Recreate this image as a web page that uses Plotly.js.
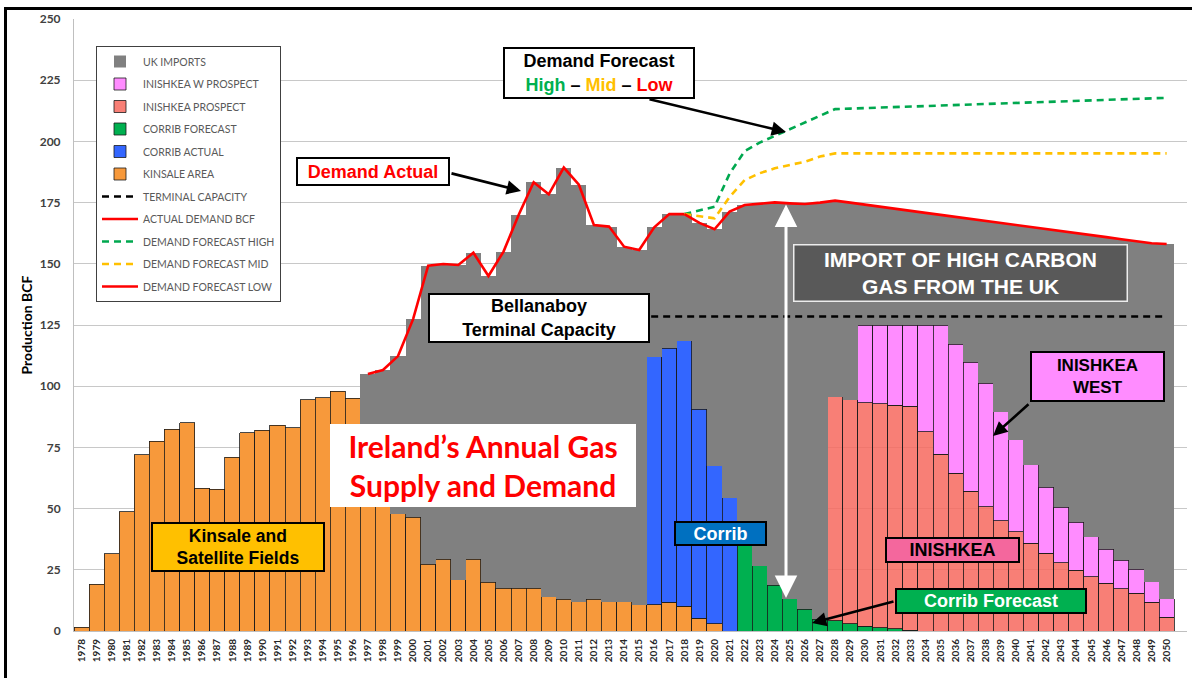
<!DOCTYPE html>
<html><head><meta charset="utf-8">
<script src="https://cdn.plot.ly/plotly-3.0.1.min.js"></script>
<style>
html,body{margin:0;padding:0;overflow:hidden;background:#fff;width:1192px;height:678px}
#chart{width:1192px;height:678px}
#frame{position:absolute;left:4px;top:7px;width:1220px;height:700px;border:3px solid #000;box-sizing:border-box;pointer-events:none}
</style>
</head><body><div id="chart"></div><div id="frame"></div>
<script>
// ---------- DATA ----------
const years = ['1978','1979','1980','1981','1982','1983','1984','1985','1986','1987',
 '1988','1989','1990','1991','1992','1993','1994','1995','1996','1997',
 '1998','1999','2000','2001','2002','2003','2004','2005','2006','2007',
 '2008','2009','2010','2011','2012','2013','2014','2015','2016','2017',
 '2018','2019','2020','2021','2022','2023','2024','2025','2026','2027',
 '2028','2029','2030','2031','2032','2033','2034','2035','2036','2037',
 '2038','2039','2040','2041','2042','2043','2044','2045','2046','2047',
 '2048','2049','2050'];

// Kinsale area 1978-2020
const kinsale = [1.5,19,31.5,48.7,72,77.6,82.5,85,58.4,58,
 71,81,82,84,83,94.5,95.3,98,95,84,
 65,48,46.4,27.2,29.4,21,29.4,20,17.4,17.4,
 17.4,13.9,12.9,12,12.9,12,12,10.8,10.8,11.7,
 10.1,5.2,3.0];
// Corrib actual 2016-2021
const corribActual = [101.3,103.8,108.5,85.4,64.5,54.5];
// Corrib forecast 2022-2033
const corribForecast = [36,26.7,18.7,13.1,8.9,4.8,4.2,3.0,2.0,1.4,0.9,0.4];
// Inishkea prospect 2028-2050
const inishkea = [91.5,91.4,91.3,91.5,91.3,91.5,81.4,72.3,64.5,57.1,
 50.8,45.1,40.6,35.8,31.7,27.9,24.9,22.2,19.6,17.3,15.4,11.7,5.7];
// Inishkea W prospect 2030-2050
const inishkeaW = [31.7,32.1,32.8,33.1,43.6,52.7,52.6,52.7,50.4,44.5,
 37.6,32.1,27.0,22.6,19.5,16.3,13.8,11.7,9.8,8.4,7.4];
// UK imports 1997-2050
const ukImports = [21.0,41.6,64.3,81.0,122.0,120.5,128.5,125.1,125.0,137.6,
 152.5,165.9,164.5,176.4,170.3,152.9,153.2,145.0,144.8,52.8,
 54.8,51.7,76.1,96.6,116.8,138.0,147.8,156.4,161.6,165.5,
 170.2,80.1,80.6,49.1,48.3,47.5,46.7,45.8,45.0,52.1,
 58.5,66.3,77.1,87.6,97.1,105.5,112.9,118.1,123.2,127.5,
 131.0,134.0,138.3,145.0];
// Terminal capacity
const terminalYears = ['2015','2050'];
const terminalCap = [128.5,128.5];
// Actual demand 1997-2018
const demandActual = [105.0,106.6,112.3,127.4,149.2,149.9,149.5,154.5,145.0,155.0,
 169.9,183.3,178.4,189.3,182.3,165.8,165.2,157.0,155.6,164.9,170.3,170.3];
// Forecasts 2018-2050
const demandHigh = [170.3,171.8,173.3,186.8,196.0,199.5,202.3,205.0,207.7,210.4,213.2,
 213.4,213.6,213.8,214.0,214.2,214.4,214.6,214.8,215.0,215.2,215.4,215.6,215.8,216.0,
 216.2,216.4,216.6,216.8,217.0,217.2,217.5,217.8];
const demandMid = [170.3,169.4,168.6,177.3,184.2,187.0,189.0,190.4,191.7,193.8,195.1,
 195.1,195.1,195.1,195.1,195.1,195.1,195.1,195.1,195.1,195.1,195.1,195.1,195.1,195.1,
 195.1,195.1,195.1,195.1,195.1,195.1,195.1,195.1];
const demandLow = [170.3,166.7,164.1,171.3,174.0,174.5,175.1,174.7,174.4,175.0,175.8,
 175.0,174.1,173.3,172.5,171.7,170.8,170.0,169.2,168.3,167.5,166.7,165.8,165.0,164.2,
 163.4,162.5,161.7,160.9,160.0,159.2,158.4,158.1];

// ---------- STYLE / LAYOUT HELPERS ----------
const L = 74, R = 1187, T = 19, B = 631;
const PX = x => (x - L) / (R - L);
const PY = y => (B - y) / (B - T);
const ARIAL = 'Liberation Sans, Arial, sans-serif';

function bar(name, x, y, color, rank, lw) {
  return {type:'bar', name, x, y, legendrank:rank, legendgroup:name,
    marker:{color, line:{color:'#1a1a1a', width:lw}}, hoverinfo:'x+y+name'};
}
function line(name, x, y, color, dash, rank) {
  return {type:'scatter', mode:'lines', name, x, y, legendrank:rank, legendgroup:name,
    line:{color, width:2.6, dash}};
}

const traces = [
  bar('KINSALE AREA', years.slice(0,43), kinsale, '#F7993B', 6, 0.8),
  bar('CORRIB ACTUAL', years.slice(38,44), corribActual, '#3366FF', 5, 0.8),
  bar('CORRIB FORECAST', years.slice(44,56), corribForecast, '#00B050', 4, 0.8),
  bar('INISHKEA PROSPECT', years.slice(50,73), inishkea, 'rgba(247,106,96,0.86)', 3, 0.8),
  bar('INISHKEA W PROSPECT', years.slice(52,73), inishkeaW, '#FF8CFF', 2, 0.8),
  bar('UK IMPORTS', years.slice(19,73), ukImports, '#808080', 1, 0),
  line('TERMINAL CAPACITY', terminalYears, terminalCap, '#000000', '7px,5px', 7),
  line('ACTUAL DEMAND BCF', years.slice(19,41), demandActual, '#FF0000', 'solid', 8),
  line('DEMAND FORECAST HIGH', years.slice(40,73), demandHigh, '#00A84F', '7px,5px', 9),
  line('DEMAND FORECAST MID', years.slice(40,73), demandMid, '#FFC000', '7px,5px', 10),
  line('DEMAND FORECAST LOW', years.slice(40,73), demandLow, '#FF0000', 'solid', 11)
];

function box(cx, cy, w, h, text, o) {
  const bw = o.bw === undefined ? 2 : o.bw, pad = o.pad === undefined ? 1 : o.pad;
  return {xref:'paper', yref:'paper', x:PX(cx), y:PY(cy), xanchor:'center', yanchor:'middle',
    text, showarrow:false, width:w - 2*(bw+pad), height:h - 2*(bw+pad),
    bgcolor:o.bg, bordercolor:o.bc || '#000', borderwidth:bw, borderpad:pad,
    align:'center', valign:'middle',
    font:{family:o.family || ARIAL, size:o.size, color:o.color, weight:'bold'}};
}
function arrow(x0, y0, x1, y1, color, width, extra) {
  return Object.assign({xref:'paper', yref:'paper', x:PX(x1), y:PY(y1),
    ax:x0 - x1, ay:y0 - y1, text:'', showarrow:true, arrowhead:2, arrowsize:1.1,
    arrowwidth:width, arrowcolor:color}, extra || {});
}

const annotations = [
  arrow(450, 173, 521, 191, '#000', 2.6),
  arrow(648, 99, 786, 132, '#000', 2.6),
  arrow(895, 601, 812, 623, '#000', 2.6),
  arrow(1030, 403, 993, 436, '#000', 2.6),
  arrow(786, 203, 786, 598, '#FFFFFF', 3, {arrowside:'end+start', arrowsize:1.5}),
  box(373, 171.5, 154, 29, 'Demand Actual', {size:18, color:'#FF0000', bg:'#FFFFFF'}),
  box(599, 73, 192, 52,
    'Demand Forecast<br><span style="color:#00B050">High</span> – <span style="color:#FFC000">Mid</span> – <span style="color:#FF0000">Low</span>',
    {size:18, color:'#000', bg:'#FFFFFF'}),
  box(539, 318, 222, 50, 'Bellanaboy<br>Terminal Capacity', {size:18, color:'#000', bg:'#FFFFFF'}),
  box(960.5, 273, 335, 58, 'IMPORT OF HIGH CARBON<br>GAS FROM THE UK',
    {size:21, color:'#FFFFFF', bg:'#595959', bc:'#EDEDED', bw:1.5}),
  box(483, 465.5, 306, 83, 'Ireland’s Annual Gas<br>Supply and Demand',
    {size:30, color:'#FF0000', bg:'#FFFFFF', bw:0, family:'Lato, sans-serif'}),
  box(238, 547, 174, 50, 'Kinsale and<br>Satellite Fields', {size:17.5, color:'#000', bg:'#FFC000'}),
  box(720.5, 533.5, 93, 25, 'Corrib', {size:18, color:'#FFFFFF', bg:'#0070C0'}),
  box(991, 601, 192, 26, 'Corrib Forecast', {size:18, color:'#FFFFFF', bg:'#00B050'}),
  box(952.5, 550, 135, 26, 'INISHKEA', {size:18, color:'#000', bg:'#F4679D'}),
  box(1097.5, 376.5, 135, 51, 'INISHKEA<br>WEST', {size:17, color:'#000', bg:'#FF8CFF'})
];

const layout = {
  width:1192, height:678,
  margin:{l:L, r:1192 - R, t:T, b:678 - B, pad:0},
  paper_bgcolor:'#FFFFFF', plot_bgcolor:'#FFFFFF',
  barmode:'stack', bargap:0,
  showlegend:true,
  legend:{x:PX(96), y:PY(46), xanchor:'left', yanchor:'top',
    bgcolor:'#FFFFFF', bordercolor:'#404040', borderwidth:1,
    traceorder:'grouped', tracegroupgap:3.5, itemwidth:36,
    font:{family:'Lato, sans-serif', size:10.5, color:'#595959'}},
  xaxis:{type:'category', categoryorder:'array', categoryarray:years,
    range:[-0.5, 73.35], tickangle:-90, showgrid:false, ticks:'',
    showline:true, linecolor:'#BFBFBF', linewidth:1, ticklabelstandoff:3,
    tickfont:{family:'Lato, sans-serif', size:10, color:'#262626', weight:'bold'},
    fixedrange:true},
  yaxis:{range:[0,250], dtick:25, showgrid:true, gridcolor:'#C8C8C8', gridwidth:1,
    zeroline:false, showline:true, linecolor:'#BFBFBF', ticks:'', ticklabelstandoff:10,
    tickfont:{family:'Lato, sans-serif', size:12, color:'#404040', weight:'bold'},
    title:{text:'Production BCF', standoff:3,
      font:{family:'Lato, sans-serif', size:14, color:'#000', weight:'bold'}},
    automargin:false, fixedrange:true},
  annotations
};

Plotly.newPlot('chart', traces, layout, {displayModeBar:false, staticPlot:true});
</script></body></html>
